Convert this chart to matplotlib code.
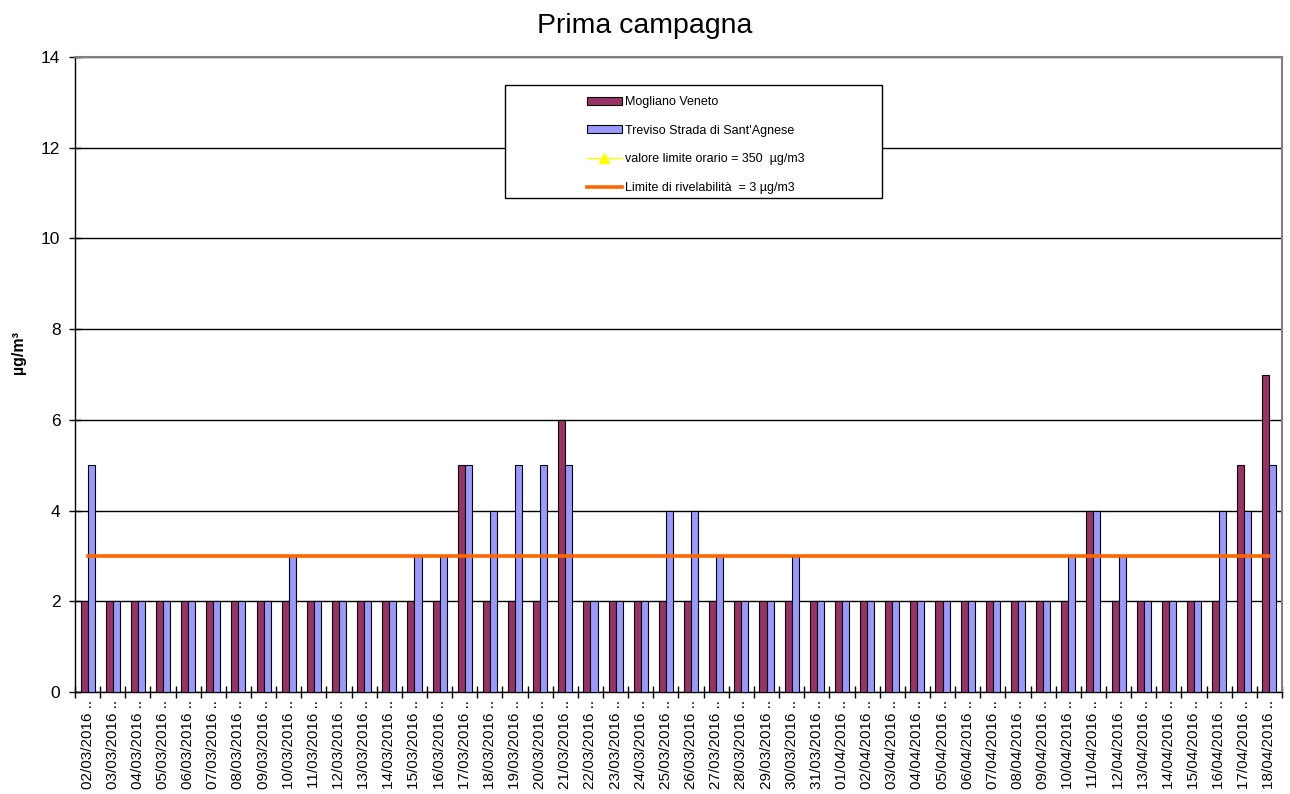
import matplotlib
matplotlib.use("Agg")
import matplotlib.pyplot as plt
from matplotlib.patches import Rectangle
import numpy as np

plt.rcParams['font.family'] = ['Liberation Sans', 'DejaVu Sans']

# days of the campaign (March 2 - April 18, 2016)
days = ["%02d/03/2016" % d for d in range(2, 32)] + ["%02d/04/2016" % d for d in range(1, 19)]
labels = [d + " .." for d in days]

mogliano = [2, 2, 2, 2, 2, 2, 2, 2, 2, 2, 2, 2, 2, 2, 2, 5, 2, 2, 2, 6,
            2, 2, 2, 2, 2, 2, 2, 2, 2, 2,
            2, 2, 2, 2, 2, 2, 2, 2, 2, 2, 4, 2, 2, 2, 2, 2, 5, 7]
treviso = [5, 2, 2, 2, 2, 2, 2, 2, 3, 2, 2, 2, 2, 3, 3, 5, 4, 5, 5, 5,
           2, 2, 2, 4, 4, 3, 2, 2, 3, 2,
           2, 2, 2, 2, 2, 2, 2, 2, 2, 3, 4, 3, 2, 2, 2, 4, 4, 5]
limite_orario = [350] * len(days)
limite_rilev = [3] * len(days)

fig = plt.figure(figsize=(12.9, 7.94), dpi=100)
ax = fig.add_axes([75 / 1290, 1 - 692 / 794, (1282 - 75) / 1290, (692 - 57) / 794])

x = np.arange(len(days))
w = 0.28
b1 = ax.bar(x - w / 2, mogliano, w, color='#993366', edgecolor='black', linewidth=0.8,
            zorder=3, label='Mogliano Veneto')
b2 = ax.bar(x + w / 2, treviso, w, color='#9999FF', edgecolor='black', linewidth=0.8,
            zorder=3, label="Treviso Strada di Sant'Agnese")
l1, = ax.plot(x, limite_orario, color='#FFFF00', lw=1, marker='^', markersize=6.5,
              zorder=4, label='valore limite orario = 350  µg/m3')
l2, = ax.plot(x, limite_rilev, color='#FF6600', lw=2.6, zorder=4,
              label='Limite di rivelabilità  = 3 µg/m3')

ax.set_xlim(-0.5, len(days) - 0.5)
ax.set_ylim(0, 14)
ax.set_yticks(range(0, 15, 2))
ax.yaxis.grid(True, color='black', lw=1)
ax.set_axisbelow(True)

ax.set_xticks(np.arange(len(days) + 1) - 0.5)
ax.set_xticklabels([])
ax.set_xticks(x, minor=True)
ax.set_xticklabels(labels, minor=True, rotation=90, fontsize=11)
ax.tick_params(axis='x', which='major', direction='inout', length=9, width=1)
ax.tick_params(axis='x', which='minor', length=0, pad=6)
ax.tick_params(axis='y', direction='inout', length=9, width=1, labelsize=12.5, pad=6)

for s in ['left', 'bottom']:
    ax.spines[s].set_color('black')
    ax.spines[s].set_linewidth(1)
for s in ['top', 'right']:
    ax.spines[s].set_color('#808080')
    ax.spines[s].set_linewidth(1.5)

fig.text(0.5, 1 - 33 / 794, 'Prima campagna', fontsize=20.5, ha='center', va='baseline')
ax.set_ylabel('µg/m³', fontsize=11.5, fontweight='bold')
ax.yaxis.set_label_coords(-0.041, 0.535)

# legend box
ax.add_patch(Rectangle((0.3563, 0.778), 0.3123, 0.178, transform=ax.transAxes,
                       facecolor='white', edgecolor='black', lw=1, zorder=5))
leg = ax.legend(handles=[b1, b2, l1, l2], loc='upper left', bbox_to_anchor=(0.424, 0.938),
                frameon=False, fontsize=9, borderpad=0, borderaxespad=0,
                labelspacing=1.32, handlelength=2.8, handletextpad=0.25, handleheight=0.6)
leg.set_zorder(6)

fig.savefig('out.png', dpi=100)
